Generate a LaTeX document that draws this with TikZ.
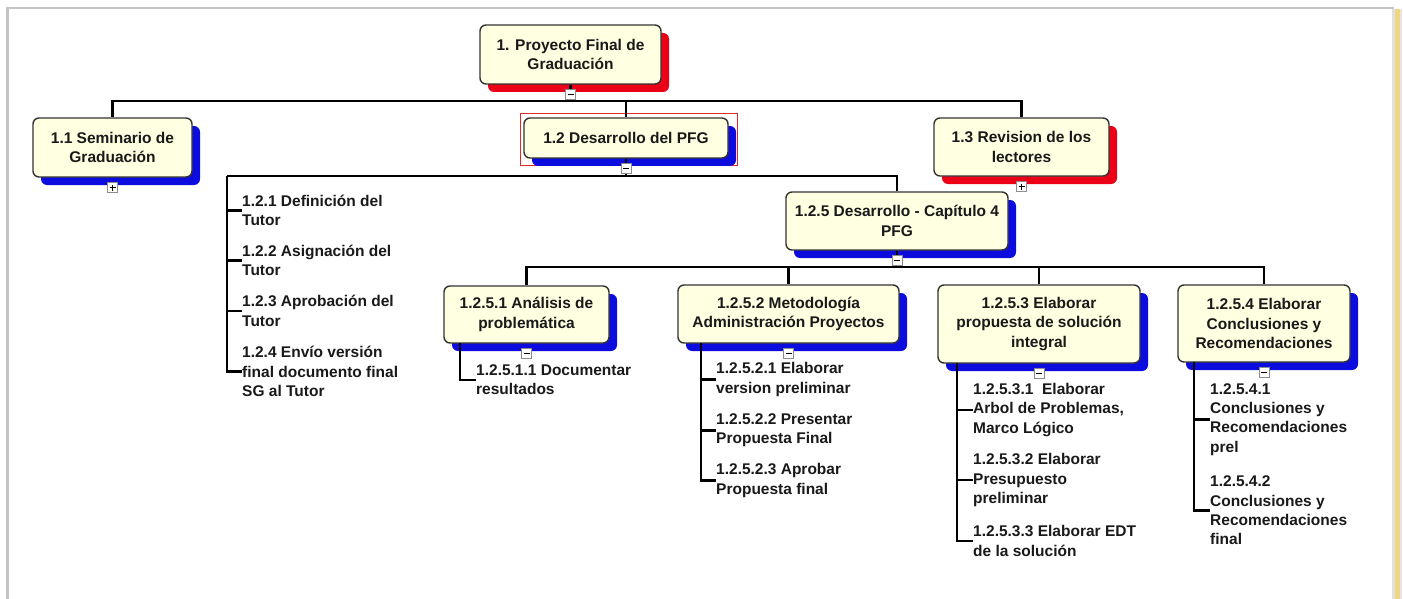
\documentclass[tikz,border=0pt]{standalone}
\usepackage{fontspec}
\setmainfont{Liberation Sans}
\usetikzlibrary{shadows}
\definecolor{boxfill}{RGB}{255,255,225}
\definecolor{shred}{RGB}{236,0,24}
\definecolor{shblue}{RGB}{12,12,222}
\definecolor{framegray}{RGB}{196,196,196}
\definecolor{frameyellow}{RGB}{240,214,128}
\definecolor{selred}{RGB}{224,40,40}
\begin{document}
\begin{tikzpicture}[x=1pt,y=-1pt,
  every node/.style={font=\fontsize{15.5}{19.3}\selectfont\bfseries, text=black!90},
  wbox/.style={draw=black!80, line width=1.4pt, fill=boxfill, rounded corners=6pt,
    align=center, inner sep=0pt},
  redsh/.style={general shadow={fill=shred, shadow xshift=8pt, shadow yshift=-8pt}},
  bluesh/.style={general shadow={fill=shblue, shadow xshift=8pt, shadow yshift=-8pt}},
  link/.style={draw=black, line width=2.3pt},
  item/.style={anchor=west, align=left, inner sep=0pt},
  tog/.style={draw=black!45, fill=white, minimum size=10pt, inner sep=0pt, line width=0.9pt},
  togminus/.style={tog, path picture={
      \draw[black, line width=1.3pt]
        ([xshift=-3pt]path picture bounding box.center) --
        ([xshift=3pt]path picture bounding box.center);}},
  togplus/.style={tog, path picture={
      \draw[black, line width=1.3pt]
        ([xshift=-3pt]path picture bounding box.center) --
        ([xshift=3pt]path picture bounding box.center)
        ([yshift=-3pt]path picture bounding box.center) --
        ([yshift=3pt]path picture bounding box.center);}}
]
\useasboundingbox (0,0) rectangle (1403,599);

% window frame
\fill[framegray] (6,7) rectangle (1394,9.5);
\fill[framegray] (6,7) rectangle (8.5,599);
\fill[black!12] (1392,9) rectangle (1394.5,599);
\fill[frameyellow] (1395,9) rectangle (1400,599);
\fill[black!10] (1400,9) rectangle (1401.5,599);

% selection frame around 1.2
\draw[selred, line width=0.9pt] (520,113) rectangle (737,165);

% level 0 and 1 boxes
\node[wbox, redsh, minimum width=181pt, minimum height=59pt] (root) at (570.5,54.5)
  {1. Proyecto Final de\\Graduación};
\node[wbox, bluesh, minimum width=159pt, minimum height=59pt] (n11) at (112.5,147.5)
  {1.1 Seminario de\\Graduación};
\node[wbox, bluesh, minimum width=204pt, minimum height=40pt] (n12) at (626,138)
  {1.2 Desarrollo del PFG};
\node[wbox, redsh, minimum width=175pt, minimum height=58pt] (n13) at (1021.5,147)
  {1.3 Revision de los\\lectores};

% level 2 box
\node[wbox, bluesh, minimum width=222pt, minimum height=58pt] (n125) at (897,221)
  {1.2.5 Desarrollo - Capítulo 4\\PFG};

% level 3 boxes
\node[wbox, bluesh, minimum width=165pt, minimum height=57pt] (n1251) at (526.5,314.5)
  {1.2.5.1 Análisis de\\problemática};
\node[wbox, bluesh, minimum width=221pt, minimum height=58pt] (n1252) at (788.5,314)
  {1.2.5.2 Metodología\\Administración Proyectos};
\node[wbox, bluesh, minimum width=202pt, minimum height=78pt] (n1253) at (1039,324)
  {1.2.5.3 Elaborar\\propuesta de solución\\integral};
\node[wbox, bluesh, minimum width=172pt, minimum height=77pt] (n1254) at (1264,323.5)
  {1.2.5.4 Elaborar\\Conclusiones y\\Recomendaciones};

% work packages listed under 1.2
\node[item] (t121) at (242,210.5) {1.2.1 Definición del\\Tutor};
\node[item] (t122) at (242,260.5) {1.2.2 Asignación del\\Tutor};
\node[item] (t123) at (242,311) {1.2.3 Aprobación del\\Tutor};
\node[item] (t124) at (242,371.5) {1.2.4 Envío versión\\final documento final\\SG al Tutor};

% work packages under level 3
\node[item] (t12511) at (476,380) {1.2.5.1.1 Documentar\\resultados};
\node[item] (t12521) at (716,379.5) {1.2.5.2.1 Elaborar\\version preliminar};
\node[item] (t12522) at (716,430.5) {1.2.5.2.2 Presentar\\Propuesta Final};
\node[item] (t12523) at (716,480.5) {1.2.5.2.3 Aprobar\\Propuesta final};
\node[item] (t12531) at (973,410) {1.2.5.3.1~ Elaborar\\Arbol de Problemas,\\Marco Lógico};
\node[item] (t12532) at (973,480) {1.2.5.3.2 Elaborar\\Presupuesto\\preliminar};
\node[item] (t12533) at (973,541) {1.2.5.3.3 Elaborar EDT\\de la solución};
\node[item] (t12541) at (1210,419.5) {1.2.5.4.1\\Conclusiones y\\Recomendaciones\\prel};
\node[item] (t12542) at (1210,510.5) {1.2.5.4.2\\Conclusiones y\\Recomendaciones\\final};

% branching points
\coordinate (barA) at (570.5,101);
\coordinate (barB) at (626,176);
\coordinate (listB) at (227,176);
\coordinate (barC) at (897,267);
\coordinate (l1251) at (460,343);
\coordinate (l1252) at (701,343);
\coordinate (l1253) at (957,363);
\coordinate (l1254) at (1194,362);

% connectors, level 0 -> 1
\draw[link] (root.south) -- (barA);
\draw[link] (barA) -| (n11.north);
\draw[link] (barA) -| (n12.north);
\draw[link] (barA) -| (n13.north);

% connectors, 1.2 -> children
\draw[link] (n12.south) -- (barB);
\draw[link] (barB) -| (n125.north);
\draw[link] (barB) -- (listB);
\draw[link] (listB) |- (t121.west);
\draw[link] (listB) |- (t122.west);
\draw[link] (listB) |- (t123.west);
\draw[link] (listB) |- (t124.west);

% connectors, 1.2.5 -> children
\draw[link] (n125.south) -- (barC);
\draw[link] (barC) -| (n1251.north);
\draw[link] (barC) -| (n1252.north);
\draw[link] (barC) -| (n1253.north);
\draw[link] (barC) -| (n1254.north);

% connectors to the lowest work packages
\draw[link] (l1251) |- (t12511.west);
\draw[link] (l1252) |- (t12521.west);
\draw[link] (l1252) |- (t12522.west);
\draw[link] (l1252) |- (t12523.west);
\draw[link] (l1253) |- (t12531.west);
\draw[link] (l1253) |- (t12532.west);
\draw[link] (l1253) |- (t12533.west);
\draw[link] (l1254) |- (t12541.west);
\draw[link] (l1254) |- (t12542.west);

% expand / collapse markers
\node[togminus] (c0) at ([yshift=-10pt]root.south) {};
\node[togplus] (c11) at ([yshift=-10pt]n11.south) {};
\node[togminus] (c12) at ([yshift=-10pt]n12.south) {};
\node[togplus] (c13) at ([yshift=-10pt]n13.south) {};
\node[togminus] (c125) at ([yshift=-10pt]n125.south) {};
\node[togminus] (c1251) at ([yshift=-10pt]n1251.south) {};
\node[togminus] (c1252) at ([yshift=-10pt]n1252.south) {};
\node[togminus] (c1253) at ([yshift=-10pt]n1253.south) {};
\node[togminus] (c1254) at ([yshift=-10pt]n1254.south) {};
\end{tikzpicture}
\end{document}
